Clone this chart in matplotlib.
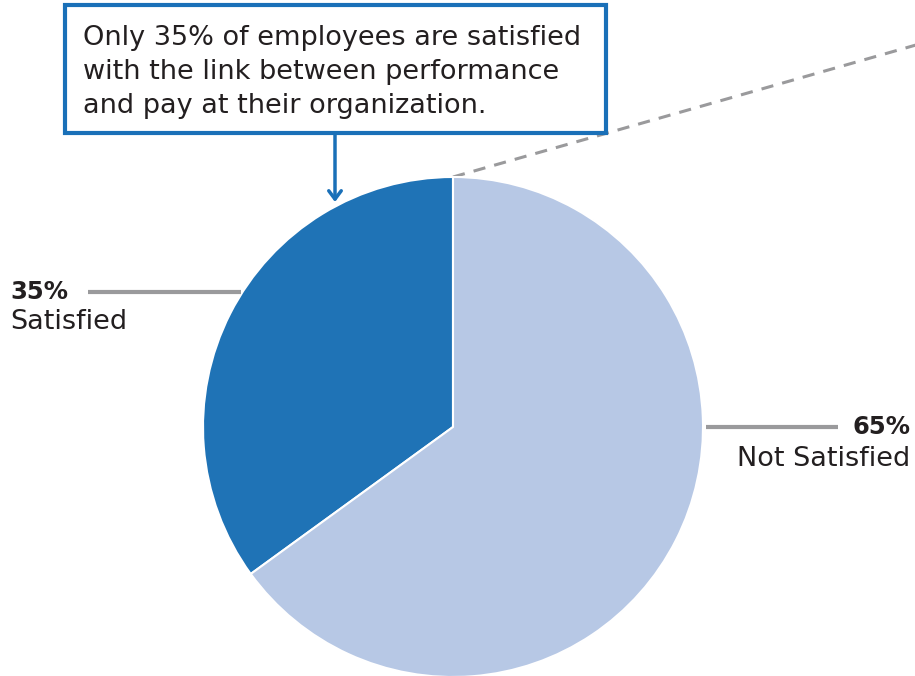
import matplotlib

matplotlib.use("Agg")
import matplotlib.pyplot as plt
from matplotlib.patches import FancyBboxPatch

categories = ["Satisfied", "Not Satisfied"]
shares = [35, 65]
colors = ["#1F73B6", "#B7C8E5"]
callout = ("Only 35% of employees are satisfied\n"
           "with the link between performance\n"
           "and pay at their organization.")

W, H = 915, 676
TEXT = "#231F20"
GRAY = "#9A9A9C"
BOX = "#1A70B8"

plt.rcParams["font.family"] = ["DejaVu Sans"]

fig = plt.figure(figsize=(W / 100, H / 100), dpi=100)
ax = fig.add_axes([0, 0, 1, 1])


def py(y):
    # pixel-row to data y (origin at top)
    return H - y


cx, cy, r = 453, py(427), 250

# dashed guide from the top of the pie running off to the right
ax.plot([453, 930], [py(177), py(41)], color=GRAY, lw=2.2,
        ls=(0, (4, 3)), zorder=1)

ax.pie(shares, colors=colors, startangle=90, counterclock=True,
       center=(cx, cy), radius=r, frame=True,
       wedgeprops=dict(edgecolor="white", linewidth=1.5))
ax.set_xlim(0, W)
ax.set_ylim(0, H)
ax.set_aspect("equal")
ax.axis("off")

# leader lines and labels
ax.plot([88, 241], [py(292), py(292)], color=GRAY, lw=3, solid_capstyle="butt")
ax.text(10, py(292), f"{shares[0]}%", fontsize=17.5, fontweight="bold",
        color=TEXT, ha="left", va="center")
ax.text(10, py(322), categories[0], fontsize=19.5, color=TEXT,
        ha="left", va="center")

ax.plot([706, 838], [py(427), py(427)], color=GRAY, lw=3, solid_capstyle="butt")
ax.text(910, py(427), f"{shares[1]}%", fontsize=17.5, fontweight="bold",
        color=TEXT, ha="right", va="center")
ax.text(910, py(459), categories[1], fontsize=19.5, color=TEXT,
        ha="right", va="center")

# callout box with arrow to the satisfied slice
box = FancyBboxPatch((65, py(133)), 541, 128, boxstyle="square,pad=0",
                     facecolor="white", edgecolor=BOX, lw=3, zorder=3)
ax.add_patch(box)
ax.text(83, py(72), callout, fontsize=19.5, color=TEXT, ha="left",
        va="center", linespacing=1.4, zorder=4)
ax.annotate("", xy=(335, py(202)), xytext=(335, py(134)),
            arrowprops=dict(arrowstyle="->,head_length=0.6,head_width=0.45",
                            color=BOX, lw=2.5, shrinkA=0, shrinkB=0),
            zorder=4)

fig.savefig("out.png", dpi=100)
